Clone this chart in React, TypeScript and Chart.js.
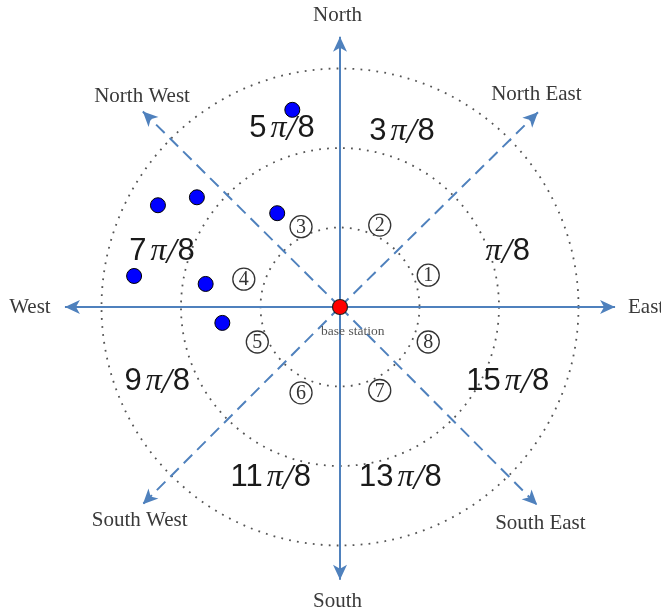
import React, { useEffect, useRef } from "react";
import { Chart, registerables } from "chart.js";

Chart.register(...registerables);

// ---- data (in diagram units; 1 unit = innermost ring radius) ----
const ringRadii = [1, 2, 3];

const compassTipX = [0, 0, -3.46, 3.46];
const compassTipY = [3.4, -3.43, 0, 0];
const diagonalTipX = [2.49, -2.48, -2.48, 2.48];
const diagonalTipY = [2.45, 2.46, -2.48, -2.49];

const directionLabels = ["North", "South", "West", "East", "North East", "North West", "South West", "South East"];
const directionLabelX = [-0.03, -0.03, -3.9, 3.85, 2.47, -2.49, -2.52, 2.52];
const directionLabelY = [3.67, -3.7, -0.01, 0.0, 2.67, 2.65, -2.68, -2.72];

const sectorCoef = ["", "3", "5", "7", "9", "11", "13", "15"];
const sectorLabelX = [2.11, 0.78, -0.73, -2.24, -2.3, -0.87, 0.76, 2.11];
const sectorLabelY = [0.7, 2.21, 2.24, 0.7, -0.94, -2.15, -2.15, -0.94];

const zoneNumbers = ["1", "2", "3", "4", "5", "6", "7", "8"];
const zoneX = [1.11, 0.5, -0.49, -1.21, -1.04, -0.49, 0.5, 1.11];
const zoneY = [0.4, 1.03, 1.01, 0.35, -0.44, -1.08, -1.05, -0.44];

const terminalX = [-0.6, -2.29, -1.8, -0.79, -2.59, -1.69, -1.48];
const terminalY = [2.48, 1.28, 1.38, 1.18, 0.39, 0.29, -0.2];

const baseStationX = [0];
const baseStationY = [0];
const baseStationLabel = "base station";
const baseStationLabelX = 0.16;
const baseStationLabelY = -0.31;

// ---- styles ----
const ARROW = "#4f81bd";
const W = 661;
const H = 615;

function seg(x: number, y: number) {
  return [
    { x: 0, y: 0 },
    { x, y },
  ];
}

const diagramPlugin = {
  id: "diagram",
  beforeDatasetsDraw(chart: any) {
    const { ctx, scales } = chart;
    const xs = scales.x;
    const ys = scales.y;
    const cx = xs.getPixelForValue(0);
    const cy = ys.getPixelForValue(0);
    ctx.save();
    ctx.strokeStyle = "#555";
    ctx.lineWidth = 1.8;
    ctx.setLineDash([1.8, 6.2]);
    for (const r of ringRadii) {
      const rp = xs.getPixelForValue(r) - cx;
      ctx.beginPath();
      ctx.arc(cx, cy, rp, 0, Math.PI * 2);
      ctx.stroke();
    }
    ctx.restore();
  },
  afterDatasetsDraw(chart: any) {
    const { ctx, scales } = chart;
    const xs = scales.x;
    const ys = scales.y;
    const cx = xs.getPixelForValue(0);
    const cy = ys.getPixelForValue(0);
    const tipsX = compassTipX.concat(diagonalTipX);
    const tipsY = compassTipY.concat(diagonalTipY);
    ctx.save();
    ctx.fillStyle = ARROW;
    for (let i = 0; i < tipsX.length; i++) {
      const px = xs.getPixelForValue(tipsX[i]);
      const py = ys.getPixelForValue(tipsY[i]);
      const a = Math.atan2(py - cy, px - cx);
      const L = 15;
      const hw = 7;
      const notch = 4;
      ctx.save();
      ctx.translate(px, py);
      ctx.rotate(a);
      ctx.beginPath();
      ctx.moveTo(0, 0);
      ctx.lineTo(-L, -hw);
      ctx.lineTo(-L + notch, 0);
      ctx.lineTo(-L, hw);
      ctx.closePath();
      ctx.fill();
      ctx.restore();
    }
    ctx.restore();
  },
  afterDraw(chart: any) {
    const { ctx, scales } = chart;
    const xs = scales.x;
    const ys = scales.y;
    ctx.save();
    ctx.textAlign = "center";
    ctx.textBaseline = "middle";

    // direction labels
    ctx.fillStyle = "#3a3a3a";
    ctx.font = "21px 'Liberation Serif', serif";
    directionLabels.forEach((t, i) => {
      ctx.fillText(t, xs.getPixelForValue(directionLabelX[i]), ys.getPixelForValue(directionLabelY[i]));
    });

    // base station label
    ctx.fillStyle = "#555";
    ctx.font = "13.5px 'Liberation Serif', serif";
    ctx.fillText(baseStationLabel, xs.getPixelForValue(baseStationLabelX), ys.getPixelForValue(baseStationLabelY));

    // sector labels kπ/8
    ctx.fillStyle = "#1a1a1a";
    ctx.textAlign = "left";
    sectorCoef.forEach((k, i) => {
      const numFont = "31px 'Liberation Sans', sans-serif";
      const piFont = "italic 32px 'Liberation Serif', serif";
      const slashFont = "italic 36px 'Liberation Serif', serif";
      const parts: [string, string, number][] = [];
      if (k) parts.push([k, numFont, 4]);
      parts.push(["π", piFont, 0]);
      parts.push(["/", slashFont, 1]);
      parts.push(["8", numFont, 0]);
      let total = 0;
      const widths = parts.map(([t, f, gap]) => {
        ctx.font = f;
        const w = ctx.measureText(t).width + gap;
        total += w;
        return w;
      });
      let x = xs.getPixelForValue(sectorLabelX[i]) - total / 2;
      const y = ys.getPixelForValue(sectorLabelY[i]);
      parts.forEach(([t, f], j) => {
        ctx.font = f;
        ctx.fillText(t, x, y + (t === "/" ? 2 : 0));
        x += widths[j];
      });
    });

    // circled zone numbers
    ctx.textAlign = "center";
    zoneNumbers.forEach((n, i) => {
      const px = xs.getPixelForValue(zoneX[i]);
      const py = ys.getPixelForValue(zoneY[i]);
      ctx.fillStyle = "#fff";
      ctx.beginPath();
      ctx.arc(px, py, 11, 0, Math.PI * 2);
      ctx.fill();
      ctx.strokeStyle = "#333";
      ctx.lineWidth = 1.3;
      ctx.stroke();
      ctx.fillStyle = "#333";
      ctx.font = "20px 'Liberation Serif', serif";
      ctx.fillText(n, px, py + 1);
    });
    ctx.restore();
  },
};

export default function App() {
  const ref = useRef<HTMLCanvasElement | null>(null);
  useEffect(() => {
    if (!ref.current) return;
    const unit = 79.5;
    const cxPx = 340;
    const cyPx = 307;
    const datasets: any[] = [];
    compassTipX.forEach((x, i) => {
      datasets.push({
        data: seg(x, compassTipY[i]),
        showLine: true,
        borderColor: ARROW,
        borderWidth: 2,
        pointRadius: 0,
        order: 5,
        clip: false,
      });
    });
    diagonalTipX.forEach((x, i) => {
      datasets.push({
        data: seg(x, diagonalTipY[i]),
        showLine: true,
        borderColor: ARROW,
        borderWidth: 2,
        borderDash: [12, 7],
        pointRadius: 0,
        order: 5,
        clip: false,
      });
    });
    datasets.push({
      data: terminalX.map((x, i) => ({ x, y: terminalY[i] })),
      showLine: false,
      pointRadius: 7.5,
      pointBackgroundColor: "#0000ff",
      pointBorderColor: "#000",
      pointBorderWidth: 1,
      order: 1,
      clip: false,
    });
    datasets.push({
      data: baseStationX.map((x, i) => ({ x, y: baseStationY[i] })),
      showLine: false,
      pointRadius: 7.5,
      pointBackgroundColor: "#ff0000",
      pointBorderColor: "#222",
      pointBorderWidth: 1.2,
      order: 0,
      clip: false,
    });
    const chart = new Chart(ref.current, {
      type: "scatter",
      data: { datasets },
      options: {
        animation: false,
        responsive: false,
        devicePixelRatio: 1,
        layout: { padding: 0, autoPadding: false },
        plugins: { legend: { display: false }, tooltip: { enabled: false } },
        scales: {
          x: { type: "linear", display: false, min: -cxPx / unit, max: (W - cxPx) / unit },
          y: { type: "linear", display: false, min: -(H - cyPx) / unit, max: cyPx / unit },
        },
      },
      plugins: [diagramPlugin],
    });
    return () => chart.destroy();
  }, []);
  return (
    <div style={{ position: "absolute", left: 0, top: 0, width: W, height: H, background: "#fff" }}>
      <canvas ref={ref} width={W} height={H} />
    </div>
  );
}
